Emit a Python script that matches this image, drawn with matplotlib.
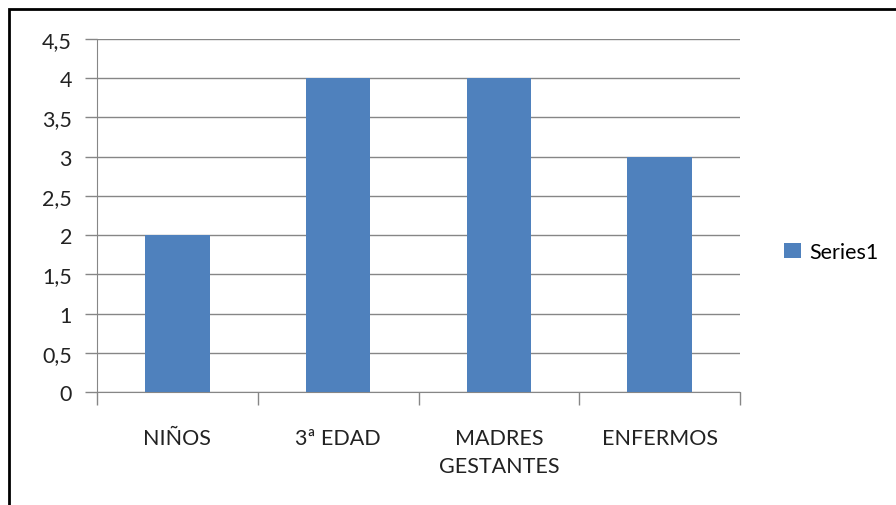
import matplotlib
matplotlib.use("Agg")
import matplotlib.pyplot as plt
from matplotlib.patches import Rectangle
from matplotlib.ticker import FuncFormatter, MultipleLocator

categories = ["NIÑOS", "3ª EDAD", "MADRES\nGESTANTES", "ENFERMOS"]
values = [2, 4, 4, 3]
series_name = "Series1"

plt.rcParams['font.family'] = ['Lato', 'DejaVu Sans']

W, H = 896, 506
FS = 15.5
fig = plt.figure(figsize=(W/100, H/100), dpi=100)
ax = fig.add_axes([97/W, 1-393/H, (740-97)/W, (393-40)/H])

x = list(range(len(categories)))
ax.bar(x, values, width=0.4, color="#4F81BD", zorder=3, label=series_name)
ax.set_xlim(-0.5, len(categories)-0.5)
ax.set_ylim(0, 4.5)
ax.yaxis.set_major_locator(MultipleLocator(0.5))
ax.yaxis.set_major_formatter(FuncFormatter(lambda v, p: (f"{v:g}").replace(".", ",")))
ax.grid(axis="y", color="#868686", linewidth=1, zorder=0)

for s in ["top", "right"]:
    ax.spines[s].set_visible(False)
ax.spines["left"].set_color("#868686")
ax.spines["bottom"].set_color("#868686")

ax.set_xticks(x)
ax.set_xticklabels(categories, fontsize=FS, color="#222222", linespacing=1.5)
ax.tick_params(axis="x", length=0, pad=26)
ax.set_xticks([i - 0.5 for i in range(len(categories)+1)], minor=True)
ax.tick_params(axis="x", which="minor", length=9, color="#868686", width=1)
ax.tick_params(axis="y", length=9, color="#868686", width=1, labelsize=FS,
               labelcolor="#222222", pad=9)

leg = ax.legend(loc="center left", bbox_to_anchor=(765/W, 0.5), bbox_transform=fig.transFigure,
                frameon=False, fontsize=FS, handlelength=0.75, handleheight=0.75,
                handletextpad=0.4)

fig.patches.append(Rectangle((9/W, -0.1), 1.2, 1.1 - 10/H, transform=fig.transFigure,
                             fill=False, edgecolor="black", linewidth=2))

fig.savefig("out.png", dpi=100)
